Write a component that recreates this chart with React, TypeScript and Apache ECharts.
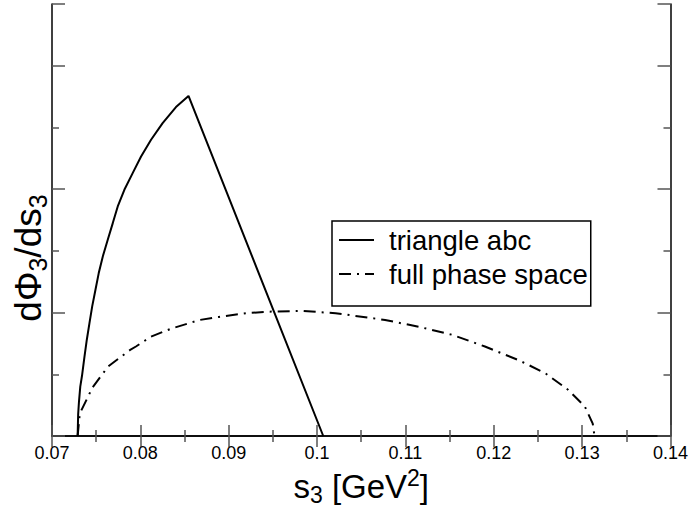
import React, { useEffect, useRef } from "react";
import * as echarts from "echarts";

// s3 values [GeV^2] and dPhi3/ds3 (arbitrary units)
const triangleS = [0.0729, 0.07296, 0.07305, 0.0732, 0.0734, 0.07368, 0.07394, 0.07424, 0.07455, 0.07492, 0.07529, 0.07575, 0.07631, 0.07688, 0.07744, 0.07819, 0.07913, 0.08008, 0.08121, 0.08252, 0.08403, 0.08545, 0.1007];
const triangleV = [0, 0.35, 0.55, 0.8, 0.98, 1.29, 1.56, 1.83, 2.1, 2.37, 2.64, 2.91, 3.18, 3.45, 3.72, 3.99, 4.26, 4.53, 4.8, 5.07, 5.33, 5.51, 0];

const phaseS = [0.0729, 0.0731, 0.0733, 0.0746, 0.0758, 0.0763, 0.0788, 0.0795, 0.0812, 0.0835, 0.0867, 0.0889, 0.092, 0.0946, 0.0983, 0.1021, 0.1077, 0.1115, 0.1153, 0.119, 0.1228, 0.1258, 0.1284, 0.1303, 0.1312, 0.1314];
const phaseV = [0, 0.3, 0.41, 0.79, 1.02, 1.12, 1.39, 1.45, 1.61, 1.74, 1.88, 1.93, 1.99, 2.015, 2.026, 1.99, 1.88, 1.77, 1.64, 1.45, 1.23, 1.02, 0.75, 0.48, 0.2, 0];

const seriesNames = ["triangle abc", "full phase space"];

const xMin = 0.07;
const xMax = 0.14;
const xStep = 0.01;
const yMin = 0;
const yMax = 7;
const yStep = 2;

const FONT = "'Liberation Sans', Arial, Helvetica, sans-serif";

export default function App() {
  const ref = useRef<HTMLDivElement>(null);
  useEffect(() => {
    document.body.style.margin = "0";
    if (!ref.current) return;
    const chart = echarts.init(ref.current, undefined, { renderer: "svg" });
    const tickStyle = { color: "#555", width: 1.5 };
    const lineAxis = { show: true, lineStyle: { color: "#000", width: 1.5 } };
    const baseX = {
      type: "value" as const,
      min: xMin,
      max: xMax,
      interval: xStep,
      axisLine: lineAxis,
      axisTick: { show: true, inside: true, length: 11, lineStyle: tickStyle },
      minorTick: { show: true, splitNumber: 2, length: 6, lineStyle: tickStyle },
      splitLine: { show: false },
    };
    const baseY = {
      type: "value" as const,
      min: yMin,
      max: yMax,
      interval: yStep,
      axisLine: lineAxis,
      axisTick: { show: true, inside: true, length: 13, lineStyle: tickStyle },
      minorTick: { show: true, splitNumber: 2, length: 7, lineStyle: tickStyle },
      splitLine: { show: false },
      axisLabel: { show: false },
    };
    chart.setOption({
      animation: false,
      backgroundColor: "#fff",
      grid: { left: 52, right: 19, top: 4, bottom: 79, containLabel: false },
      xAxis: [
        {
          ...baseX,
          position: "bottom",
          axisLabel: { show: true, color: "#000", fontSize: 18, fontFamily: FONT, margin: 8 },
          name: "{m|s}{sub|3}{m| [GeV}{sup|2}{m|]}",
          nameLocation: "middle",
          nameGap: 28,
          nameTextStyle: {
            color: "#000",
            fontFamily: FONT,
            rich: {
              m: { fontSize: 33, lineHeight: 40, color: "#000", fontFamily: FONT },
              sub: { fontSize: 23, lineHeight: 14, verticalAlign: "bottom", color: "#000", fontFamily: FONT },
              sup: { fontSize: 23, lineHeight: 14, verticalAlign: "top", color: "#000", fontFamily: FONT },
            },
          },
        },
        { ...baseX, position: "top", axisLabel: { show: false } },
      ],
      yAxis: [
        { ...baseY, position: "left" },
        { ...baseY, position: "right" },
      ],
      legend: {
        orient: "vertical",
        left: 332,
        top: 221,
        itemWidth: 35,
        itemHeight: 14,
        itemGap: 6,
        padding: [5, 3, 18, 6],
        borderColor: "#000",
        borderWidth: 1.5,
        backgroundColor: "#fff",
        data: seriesNames,
        itemStyle: { color: "rgba(0,0,0,0)", borderColor: "rgba(0,0,0,0)", borderWidth: 0, opacity: 0 },
        formatter: (name: string) => `{t|${name}}`,
        textStyle: {
          color: "#000",
          fontSize: 27.5,
          fontFamily: FONT,
          rich: { t: { fontSize: 27.5, fontFamily: FONT, color: "#000", padding: [0, 0, 0, 10] } },
        },
      },
      graphic: [
        {
          type: "text",
          x: 28,
          y: 258,
          rotation: Math.PI / 2,
          style: {
            text: "{m|dΦ}{sub|3}{m|/ds}{sub|3}",
            align: "center",
            verticalAlign: "middle",
            fill: "#000",
            rich: {
              m: { fontSize: 37, lineHeight: 45, fill: "#000", fontFamily: FONT },
              sub: { fontSize: 25, lineHeight: 16, verticalAlign: "bottom", fill: "#000", fontFamily: FONT },
            },
          },
        },
      ],
      series: [
        {
          name: seriesNames[0],
          type: "line",
          data: triangleS.map((s, i) => [s, triangleV[i]]),
          symbol: "none",
          showSymbol: false,
          lineStyle: { color: "#000", width: 2, type: "solid" },
          itemStyle: { color: "#000" },
        },
        {
          name: seriesNames[1],
          type: "line",
          data: phaseS.map((s, i) => [s, phaseV[i]]),
          symbol: "none",
          showSymbol: false,
          lineStyle: { color: "#000", width: 2, type: [12, 6, 2, 6] },
          itemStyle: { color: "#000" },
        },
      ],
    });
    return () => chart.dispose();
  }, []);
  return <div ref={ref} style={{ width: 691, height: 515 }} />;
}
